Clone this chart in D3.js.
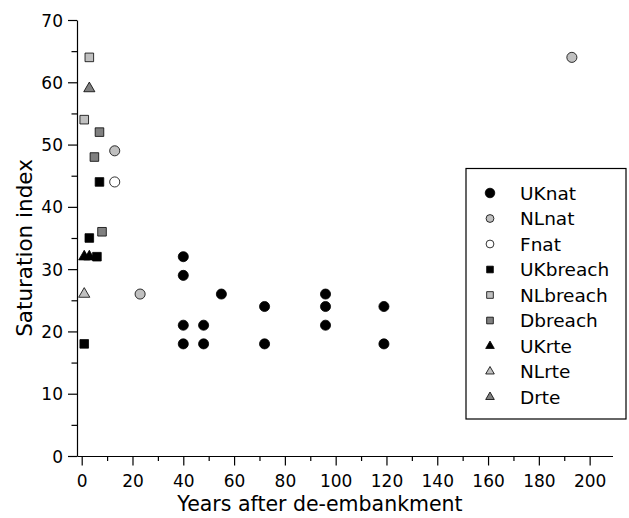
<!DOCTYPE html>
<html>
<head>
<meta charset="utf-8">
<style>
  body { margin: 0; background: #fff; }
  text { font-family: "DejaVu Sans", sans-serif; fill: #000; }
</style>
<script src="https://cdn.jsdelivr.net/npm/d3@7"></script>
</head>
<body>
<svg width="629" height="518"></svg>
<script>
// values: [years, saturation index]
var UKnat    = [[40,32],[40,29],[40,21],[40,18],[48,21],[48,18],[55,26],[72,24],[72,18],[96,26],[96,24],[96,21],[119,24],[119,18]];
var NLnat    = [[13,49],[23,26],[193,64]];
var Fnat     = [[13,44]];
var UKbreach = [[7,44],[3,35],[6,32],[1,18]];
var NLbreach = [[3,64],[1,54]];
var Dbreach  = [[7,52],[5,48],[8,36]];
var UKrte    = [[1,32],[3,32]];
var NLrte    = [[1,26]];
var Drte     = [[3,59]];

var xTicks = d3.range(0, 201, 20);
var yTicks = d3.range(0, 71, 10);

var series = [
  {name: "UKnat",    data: UKnat,    shape: "circle",   fill: "#000"},
  {name: "NLnat",    data: NLnat,    shape: "circle",   fill: "#c0c0c0"},
  {name: "Fnat",     data: Fnat,     shape: "circle",   fill: "#fff"},
  {name: "UKbreach", data: UKbreach, shape: "square",   fill: "#000"},
  {name: "NLbreach", data: NLbreach, shape: "square",   fill: "#c0c0c0"},
  {name: "Dbreach",  data: Dbreach,  shape: "square",   fill: "#808080"},
  {name: "UKrte",    data: UKrte,    shape: "triangle", fill: "#000"},
  {name: "NLrte",    data: NLrte,    shape: "triangle", fill: "#c0c0c0"},
  {name: "Drte",     data: Drte,     shape: "triangle", fill: "#808080"}
];

var svg = d3.select("svg");

var x = d3.scaleLinear().domain([-1.85, 209]).range([77, 612.5]);
var y = d3.scaleLinear().domain([0, 70]).range([456, 20]);

var shapes = {circle: d3.symbolCircle, square: d3.symbolSquare, triangle: d3.symbolTriangle};
var sizes  = {circle: 80, square: 74, triangle: 54};

function sym(shape, scale) {
  return d3.symbol().type(shapes[shape]).size(sizes[shape] * (scale || 1))();
}

// axes
var xAxis = svg.append("g").attr("transform", "translate(0," + y(0) + ")");
xAxis.call(d3.axisBottom(x).tickValues(xTicks).tickSize(9.5).tickSizeOuter(0));
xAxis.selectAll(".tick text").attr("y", 31).attr("dy", 0);
xAxis.append("g").call(d3.axisBottom(x).tickValues(d3.range(10, 210, 20)).tickSize(5).tickFormat("").tickSizeOuter(0))
  .select(".domain").remove();

var yAxis = svg.append("g").attr("transform", "translate(" + x.range()[0] + ",0)");
yAxis.call(d3.axisLeft(y).tickValues(yTicks).tickSize(9).tickSizeOuter(0));
yAxis.selectAll(".tick text").attr("x", -14).attr("dy", "0.36em");
yAxis.append("g").call(d3.axisLeft(y).tickValues(d3.range(5, 70, 10)).tickSize(5.5).tickFormat("").tickSizeOuter(0))
  .select(".domain").remove();

svg.selectAll(".domain, .tick line").attr("stroke", "#000").attr("stroke-width", 1.2);
svg.selectAll(".tick text").style("font-size", "17px").attr("fill", "#000")
  .style("font-family", "'DejaVu Sans', sans-serif");

svg.append("text")
  .attr("x", 320).attr("y", 511)
  .attr("text-anchor", "middle")
  .style("font-size", "20.5px")
  .text("Years after de-embankment");

svg.append("text")
  .attr("transform", "translate(31.5,248) rotate(-90)")
  .attr("text-anchor", "middle")
  .style("font-size", "21.5px")
  .text("Saturation index");

// points
series.forEach(function(s) {
  svg.append("g").selectAll("path")
    .data(s.data)
    .enter().append("path")
    .attr("transform", function(d) { return "translate(" + x(d[0]) + "," + y(d[1]) + ")"; })
    .attr("d", sym(s.shape))
    .attr("fill", s.fill)
    .attr("stroke", "#000")
    .attr("stroke-width", 0.8);
});

// legend
var legend = svg.append("g");
legend.append("rect")
  .attr("x", 466).attr("y", 168.5)
  .attr("width", 160).attr("height", 250.5)
  .attr("fill", "#fff").attr("stroke", "#000").attr("stroke-width", 1.2);

var rows = legend.selectAll("g.row")
  .data(series)
  .enter().append("g")
  .attr("class", "row")
  .attr("transform", function(d, i) { return "translate(0," + (193 + i * 25.5) + ")"; });

rows.append("path")
  .attr("transform", "translate(490,0)")
  .attr("d", function(d) { return sym(d.shape, d.name == "UKnat" ? 0.9 : 0.6); })
  .attr("fill", function(d) { return d.fill; })
  .attr("stroke", "#000")
  .attr("stroke-width", 0.8);

rows.append("text")
  .attr("x", 520).attr("y", 6.5)
  .style("font-size", "18.5px")
  .text(function(d) { return d.name; });
</script>
</body>
</html>
